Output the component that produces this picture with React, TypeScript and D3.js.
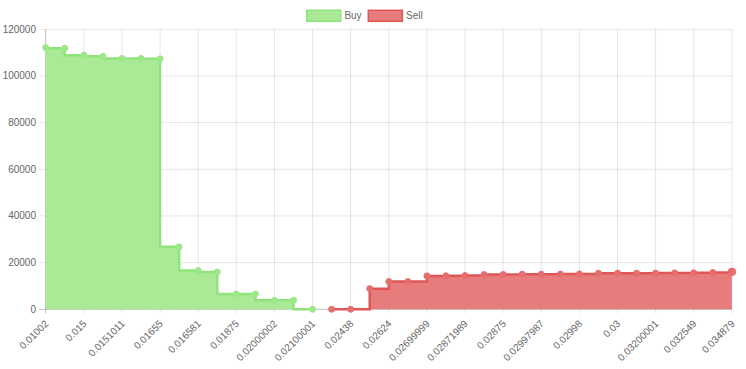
import React from "react";
import * as d3 from "d3";

const tickLabels = [
  "0.01002", "0.015", "0.0151011", "0.01655", "0.016581", "0.01875",
  "0.02000002", "0.02100001", "0.02438", "0.02624", "0.02699999", "0.02871989",
  "0.02875", "0.02997987", "0.02998", "0.03", "0.03200001", "0.032549", "0.034879",
];
// cumulative depth, buy side (point index 0..14)
const buyDepth = [112200, 111900, 108900, 108400, 107500, 107500, 107350, 26800, 16600, 16000, 6580, 6580, 3870, 3870, 0];
// cumulative depth, sell side (point index 15..36)
const sellDepth = [0, 0, 8860, 11870, 11870, 14320, 14350, 14450, 14880, 14900, 15050, 15050, 15080, 15180, 15480, 15500, 15500, 15520, 15610, 15620, 15740, 16040];
const yTicks = [0, 20000, 40000, 60000, 80000, 100000, 120000];
const legendItems = ["Buy", "Sell"];

const W = 746;
const H = 369;
const FONT = "'Helvetica Neue', Helvetica, Arial, sans-serif";

export default function App() {
  const nPoints = buyDepth.length + sellDepth.length;
  const x = d3.scaleLinear().domain([0, nPoints - 1]).range([45.7, 731.9]);
  const y = d3.scaleLinear().domain([0, 120000]).range([309.3, 29.3]);

  const buyPts = buyDepth.map((v, i) => [x(i), y(v)] as [number, number]);
  const sellPts = sellDepth.map((v, i) => [x(i + buyDepth.length), y(v)] as [number, number]);

  const buyLine = d3.line().curve(d3.curveStepBefore)(buyPts) || "";
  const buyArea = d3.area<[number, number]>().x(d => d[0]).y1(d => d[1]).y0(y(0)).curve(d3.curveStepBefore)(buyPts) || "";
  const sellLine = d3.line().curve(d3.curveStepAfter)(sellPts) || "";
  const sellArea = d3.area<[number, number]>().x(d => d[0]).y1(d => d[1]).y0(y(0)).curve(d3.curveStepAfter)(sellPts) || "";

  const green = { fill: "#aaea96", stroke: "#8ee47a", point: "#9ce888" };
  const red = { fill: "#e67c7c", stroke: "#e05656", point: "#e56e6e" };

  const [, x1] = x.range();
  const [yb, yt] = y.range();

  return (
    <div style={{ position: "absolute", left: 0, top: 0 }}>
      <svg width={W} height={H} style={{ display: "block", fontFamily: FONT }}>
        <rect width={W} height={H} fill="#fff" />
        {/* horizontal grid */}
        {yTicks.map(t => (
          <g key={"y" + t}>
            <line x1={39} x2={x1} y1={y(t)} y2={y(t)} stroke={t === 0 ? "rgba(0,0,0,0.25)" : "rgba(0,0,0,0.1)"} strokeWidth={1} />
            <text x={36} y={y(t)} dy="0.35em" textAnchor="end" fontSize={10} fill="#666">{t}</text>
          </g>
        ))}
        {/* vertical grid */}
        {tickLabels.map((lab, k) => {
          const xi = x(k * 2);
          return (
            <g key={"x" + k}>
              <line x1={xi} x2={xi} y1={yt} y2={yb + 4} stroke={k === 0 ? "rgba(0,0,0,0.25)" : "rgba(0,0,0,0.1)"} strokeWidth={1} />
              <text transform={`translate(${xi + 1},${yb + 12.5}) rotate(-45)`} dy="0.35em" textAnchor="end" fontSize={10} fill="#666">{lab}</text>
            </g>
          );
        })}
        {/* sell */}
        <path d={sellArea} fill={red.fill} />
        <path d={sellLine} fill="none" stroke={red.stroke} strokeWidth={2.5} />
        {sellPts.map((p, i) => (
          <circle key={"s" + i} cx={p[0]} cy={p[1]} r={i === sellPts.length - 1 ? 3.8 : 3} fill={red.point} stroke={red.point} strokeWidth={1} />
        ))}
        {/* buy */}
        <path d={buyArea} fill={green.fill} />
        <path d={buyLine} fill="none" stroke={green.stroke} strokeWidth={2.5} />
        {buyPts.map((p, i) => (
          <circle key={"b" + i} cx={p[0]} cy={p[1]} r={3} fill={green.point} stroke={green.point} strokeWidth={1} />
        ))}
        {/* legend */}
        {legendItems.map((name, i) => {
          const bx = i === 0 ? 306.7 : 368.3;
          const c = i === 0 ? green : red;
          return (
            <g key={name}>
              <rect x={bx} y={10.3} width={34} height={11} fill={c.fill} stroke={c.stroke} strokeWidth={1.5} />
              <text x={bx + 37.7} y={15.8} dy="0.35em" fontSize={10} fill="#666">{name}</text>
            </g>
          );
        })}
      </svg>
    </div>
  );
}
